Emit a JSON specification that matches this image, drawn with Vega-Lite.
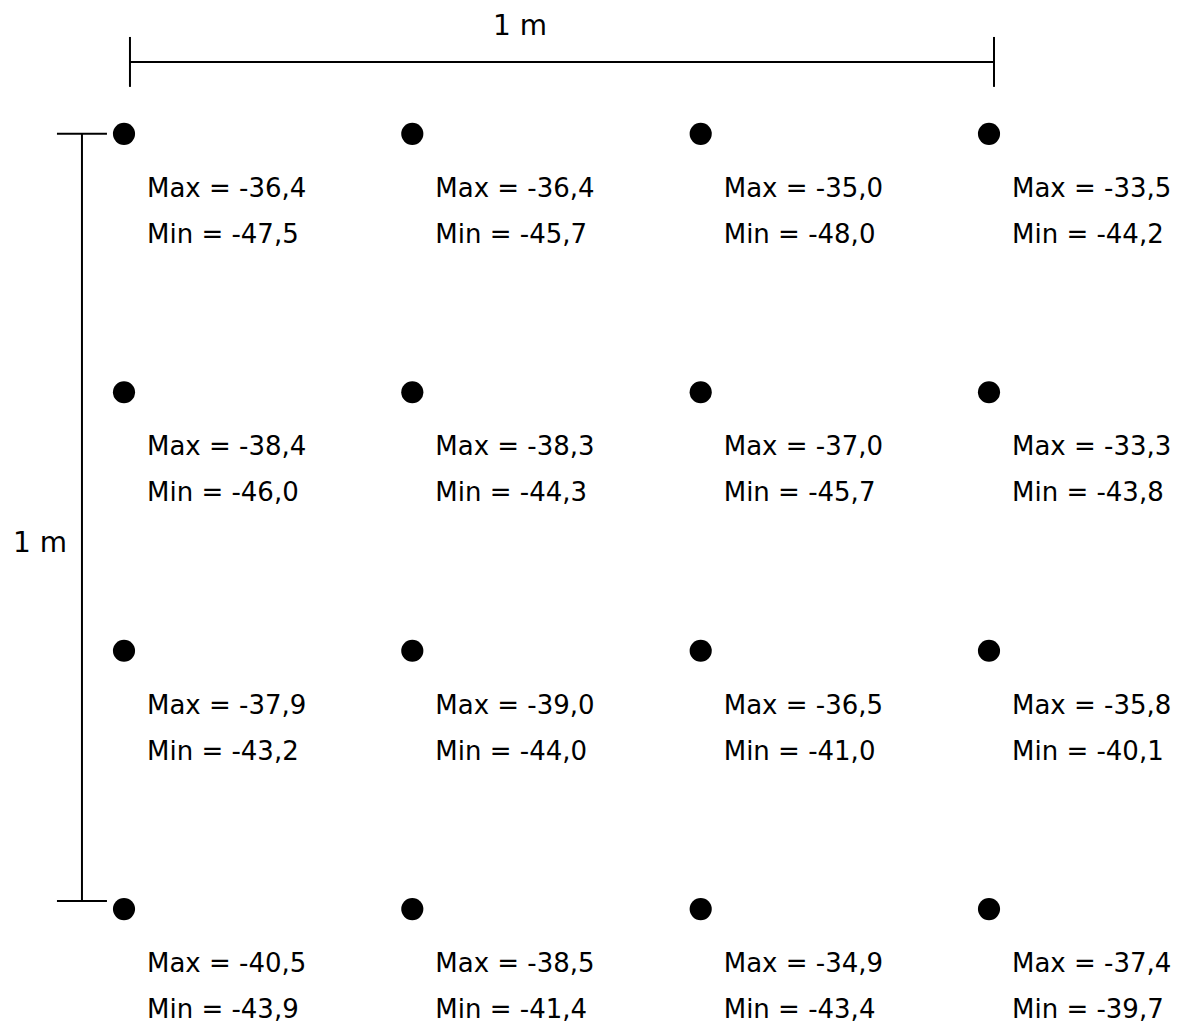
{
  "$schema": "https://vega.github.io/schema/vega-lite/v6.json",
  "width": 1197,
  "height": 1023,
  "autosize": {"type": "fit", "contains": "padding"},
  "padding": 0,
  "background": "white",
  "config": {"view": {"stroke": null}},
  "datasets": {
    "points": [
      {"x": 0, "y": 0, "max": -36.4, "min": -47.5},
      {"x": 0.3333, "y": 0, "max": -36.4, "min": -45.7},
      {"x": 0.6667, "y": 0, "max": -35.0, "min": -48.0},
      {"x": 1, "y": 0, "max": -33.5, "min": -44.2},
      {"x": 0, "y": 0.3333, "max": -38.4, "min": -46.0},
      {"x": 0.3333, "y": 0.3333, "max": -38.3, "min": -44.3},
      {"x": 0.6667, "y": 0.3333, "max": -37.0, "min": -45.7},
      {"x": 1, "y": 0.3333, "max": -33.3, "min": -43.8},
      {"x": 0, "y": 0.6667, "max": -37.9, "min": -43.2},
      {"x": 0.3333, "y": 0.6667, "max": -39.0, "min": -44.0},
      {"x": 0.6667, "y": 0.6667, "max": -36.5, "min": -41.0},
      {"x": 1, "y": 0.6667, "max": -35.8, "min": -40.1},
      {"x": 0, "y": 1, "max": -40.5, "min": -43.9},
      {"x": 0.3333, "y": 1, "max": -38.5, "min": -41.4},
      {"x": 0.6667, "y": 1, "max": -34.9, "min": -43.4},
      {"x": 1, "y": 1, "max": -37.4, "min": -39.7}
    ],
    "bars": [
      {"x": 0.0069, "x2": 1.0058, "y": -0.0928, "y2": -0.0928},
      {"x": 0.0069, "x2": 0.0069, "y": -0.125, "y2": -0.0606},
      {"x": 1.0058, "x2": 1.0058, "y": -0.125, "y2": -0.0606},
      {"x": -0.0486, "x2": -0.0486, "y": 0, "y2": 0.9897},
      {"x": -0.0775, "x2": -0.0197, "y": 0, "y2": 0},
      {"x": -0.0775, "x2": -0.0197, "y": 0.9897, "y2": 0.9897}
    ],
    "barLabels": [
      {"x": 0.4578, "y": -0.1276, "label": "1 m"},
      {"x": -0.0971, "y": 0.54, "label": "1 m"}
    ]
  },
  "encoding": {
    "x": {"field": "x", "type": "quantitative", "axis": null,
          "scale": {"domain": [-0.14335, 1.24046], "nice": false, "zero": false}},
    "y": {"field": "y", "type": "quantitative", "axis": null,
          "scale": {"domain": [-0.17268, 1.14562], "reverse": true, "nice": false, "zero": false}}
  },
  "layer": [
    {
      "data": {"name": "bars"},
      "mark": {"type": "rule", "color": "black", "strokeWidth": 2},
      "encoding": {
        "x2": {"field": "x2"},
        "y2": {"field": "y2"}
      }
    },
    {
      "data": {"name": "barLabels"},
      "mark": {"type": "text", "align": "center", "baseline": "alphabetic", "font": "DejaVu Sans", "fontSize": 28, "color": "black"},
      "encoding": {"text": {"field": "label"}}
    },
    {
      "data": {"name": "points"},
      "mark": {"type": "point", "shape": "circle", "filled": true, "size": 490, "color": "black", "opacity": 1},
      "encoding": {}
    },
    {
      "data": {"name": "points"},
      "transform": [
        {"calculate": "'Max = ' + replace(replace(format(datum.max, '.1f'), '.', ','), '\u2212', '-')", "as": "maxLabel"}
      ],
      "mark": {"type": "text", "align": "left", "baseline": "alphabetic", "dx": 23, "dy": 63, "font": "DejaVu Sans", "fontSize": 26, "color": "black"},
      "encoding": {"text": {"field": "maxLabel"}}
    },
    {
      "data": {"name": "points"},
      "transform": [
        {"calculate": "'Min = ' + replace(replace(format(datum.min, '.1f'), '.', ','), '\u2212', '-')", "as": "minLabel"}
      ],
      "mark": {"type": "text", "align": "left", "baseline": "alphabetic", "dx": 23, "dy": 109, "font": "DejaVu Sans", "fontSize": 26, "color": "black"},
      "encoding": {"text": {"field": "minLabel"}}
    }
  ]
}
